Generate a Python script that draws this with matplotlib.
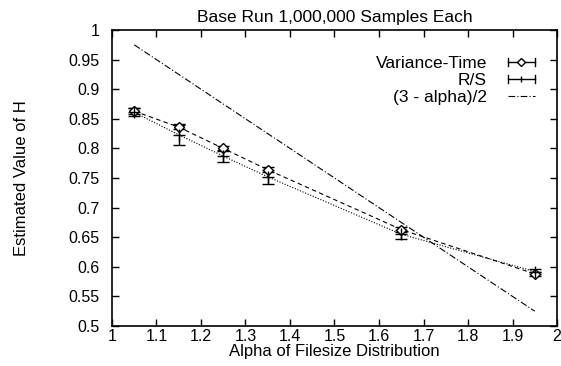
import numpy as np
import matplotlib
matplotlib.use('Agg')
import matplotlib.pyplot as plt
from matplotlib.lines import Line2D
from matplotlib.legend_handler import HandlerBase

plt.rcParams['font.family'] = ['Liberation Sans', 'DejaVu Sans']

# data
alpha = [1.05, 1.15, 1.25, 1.35, 1.65, 1.95]
vt_h = [0.863, 0.836, 0.800, 0.764, 0.663, 0.588]
vt_err = [0.005, 0.004, 0.004, 0.004, 0.004, 0.004]
rs_h = [0.861, 0.823, 0.787, 0.752, 0.655, 0.592]
rs_err = [0.007, 0.018, 0.010, 0.012, 0.008, 0.005]
theory_x = [1.05, 1.95]
legend_labels = ['Variance-Time', 'R/S', '(3 - alpha)/2']


class HErrHandler(HandlerBase):
    """gnuplot style key sample: |--o--| horizontal bar with end caps"""
    def __init__(self, marker, ms):
        super().__init__()
        self.marker = marker
        self.ms = ms

    def create_artists(self, legend, orig_handle, xdescent, ydescent,
                       width, height, fontsize, trans):
        y = height / 2 - ydescent
        x0, x1 = -xdescent, width - xdescent
        c = 3
        arts = [
            Line2D([x0, x1], [y, y], color='black', lw=1, transform=trans),
            Line2D([x0, x0], [y - c, y + c], color='black', lw=1, transform=trans),
            Line2D([x1, x1], [y - c, y + c], color='black', lw=1, transform=trans),
            Line2D([(x0 + x1) / 2], [y], marker=self.marker, ms=self.ms,
                   mfc='white', mec='black', mew=1, ls='none', transform=trans),
        ]
        return arts


fig = plt.figure(figsize=(5.61, 3.66), dpi=100)
ax = fig.add_axes([0.1996, 0.1093, 0.7933, 0.8087])

ax.plot(alpha, vt_h, color='black', lw=0.8, ls=(0, (4, 3)))
ax.plot(alpha, rs_h, color='black', lw=0.8, ls=(0, (1, 1.5)))
vt = ax.errorbar(alpha, vt_h, yerr=vt_err, fmt='D', ms=5, mfc='white', mec='black',
                 mew=1, ecolor='black', elinewidth=1, capsize=4, color='black')
rs = ax.errorbar(alpha, rs_h, yerr=rs_err, fmt='+', ms=9, mec='black', mew=1,
                 ecolor='black', elinewidth=1, capsize=4, color='black')
th, = ax.plot(theory_x, [(3 - a) / 2 for a in theory_x], color='black', lw=0.8,
              ls=(0, (6, 2, 1, 2)))

ax.set_xlim(1, 2)
ax.set_ylim(0.5, 1)
ax.set_xticks(np.arange(1, 2.01, 0.1))
ax.set_xticklabels(['1', '1.1', '1.2', '1.3', '1.4', '1.5', '1.6', '1.7', '1.8', '1.9', '2'])
ax.set_yticks(np.arange(0.5, 1.001, 0.05))
ax.set_yticklabels(['0.5', '0.55', '0.6', '0.65', '0.7', '0.75', '0.8', '0.85', '0.9', '0.95', '1'])
ax.tick_params(direction='in', top=True, right=True, length=5, width=1,
               labelsize=11.5)
ax.tick_params(axis='x', pad=2)
ax.tick_params(axis='y', pad=9)
for s in ax.spines.values():
    s.set_linewidth(1.2)

ax.set_title('Base Run 1,000,000 Samples Each', fontsize=12.5, pad=6)
ax.set_xlabel('Alpha of Filesize Distribution', fontsize=12, labelpad=0)
ax.set_ylabel('Estimated Value of H', fontsize=12, labelpad=28)

ax.legend([vt, rs, th], legend_labels,
          handler_map={vt: HErrHandler('D', 4), rs: HErrHandler('|', 5)},
          loc='upper right', bbox_to_anchor=(0.985, 0.965), frameon=False,
          markerfirst=False, fontsize=12.5, handlelength=1.55,
          labelspacing=0.1, handletextpad=1.2)

fig.savefig('out.png', dpi=100)
